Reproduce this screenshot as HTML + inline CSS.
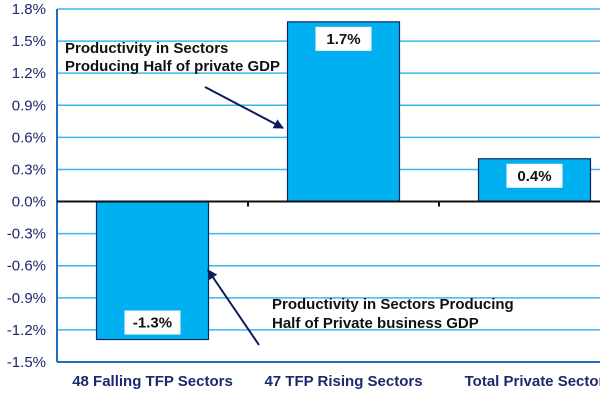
<!DOCTYPE html>
<html><head><meta charset="utf-8"><style>
html,body{margin:0;padding:0;background:#fff;}
svg{display:block;font-family:"Liberation Sans",sans-serif;}
</style></head><body>
<svg id="chart" width="600" height="400">
<g id="grid"></g>
<g id="yaxis"></g>
<g id="bars"></g>
<g id="xaxis"></g>
<defs><marker id="ah" markerWidth="10" markerHeight="10" refX="9" refY="5" orient="auto" markerUnits="userSpaceOnUse"><path d="M0,0 L10,5 L0,10 z" fill="#0d1a5c"/></marker></defs>
<g>
<text x="65" y="53" font-size="15" font-weight="bold" fill="#111">Productivity in Sectors</text>
<text x="65" y="71" font-size="15" font-weight="bold" fill="#111">Producing Half of private GDP</text>
<line x1="205" y1="87" x2="283" y2="128" stroke="#0d1a5c" stroke-width="2" marker-end="url(#ah)"/>
</g>
<g>
<text x="272" y="309" font-size="15" font-weight="bold" fill="#111">Productivity in Sectors Producing</text>
<text x="272" y="328" font-size="15" font-weight="bold" fill="#111">Half of Private business GDP</text>
<line x1="259" y1="345" x2="208" y2="270" stroke="#0d1a5c" stroke-width="2" marker-end="url(#ah)"/>
</g>
</svg>
<script>
const categories = ["48 Falling TFP Sectors","47 TFP Rising Sectors","Total Private Sector"];
const values = [-1.29, 1.68, 0.40];
const valueLabels = ["-1.3%","1.7%","0.4%"];
const yTicks = [1.8,1.5,1.2,0.9,0.6,0.3,0.0,-0.3,-0.6,-0.9,-1.2,-1.5];

const NS="http://www.w3.org/2000/svg";
const L=57, R=630, T=9, B=362, yMax=1.8, yMin=-1.5;
const y=v=>T+(yMax-v)/(yMax-yMin)*(B-T);
const cw=(R-L)/categories.length;
const x=i=>L+cw*i;
function mk(tag,attrs,parent){const e=document.createElementNS(NS,tag);for(const k in attrs)e.setAttribute(k,attrs[k]);parent.appendChild(e);return e;}
const grid=document.getElementById('grid'),ya=document.getElementById('yaxis'),bars=document.getElementById('bars'),xa=document.getElementById('xaxis');
yTicks.forEach(t=>{
  if(Math.abs(t)>1e-9&&t<yMax){const g=mk('line',{x1:L,x2:600,y1:y(t),y2:y(t),stroke:'#3fb6e8','stroke-width':1.5},grid);
  
  }
  const tx=mk('text',{x:L-11,y:y(t)+5,'text-anchor':'end','font-size':15,fill:'#1a2a6c'},ya);
  tx.textContent=t.toFixed(1)+'%';
  
  
});
mk('line',{x1:L,x2:600,y1:T,y2:T,stroke:'#3fb6e8','stroke-width':1.5},grid);
mk('line',{x1:L,x2:L,y1:T,y2:B,stroke:'#1f6fc0','stroke-width':2},ya);
mk('line',{x1:L,x2:600,y1:B,y2:B,stroke:'#1f6fc0','stroke-width':2},ya);
const bw=112;
values.forEach((v,i)=>{
  const cx=x(i)+cw/2, y0=y(0), yv=y(v);
  const r=mk('rect',{x:cx-bw/2,y:Math.min(y0,yv),width:bw,height:Math.abs(yv-y0),fill:'#00b0f0',stroke:'#0d2a5c','stroke-width':1.2},bars);
  
  
  const ly = v>=0 ? yv+17 : yv-17;
  const bx=mk('rect',{x:cx-28,y:ly-12,width:56,height:24,fill:'#fff'},bars);
  
  
  const t=mk('text',{x:cx,y:ly+5,'text-anchor':'middle','font-size':15,'font-weight':'bold',fill:'#111'},bars);
  t.textContent=valueLabels[i];
  
  
  const c=mk('text',{x:cx,y:386,'text-anchor':'middle','font-size':15,'font-weight':'bold',fill:'#1a2a6c'},xa);
  c.textContent=categories[i];
  
  
});
mk('line',{x1:L,x2:600,y1:y(0),y2:y(0),stroke:'#111','stroke-width':2},xa);
for(let i=1;i<categories.length;i++){mk('line',{x1:x(i),x2:x(i),y1:y(0),y2:y(0)+5,stroke:'#111','stroke-width':2},xa);}
</script>
</body></html>
